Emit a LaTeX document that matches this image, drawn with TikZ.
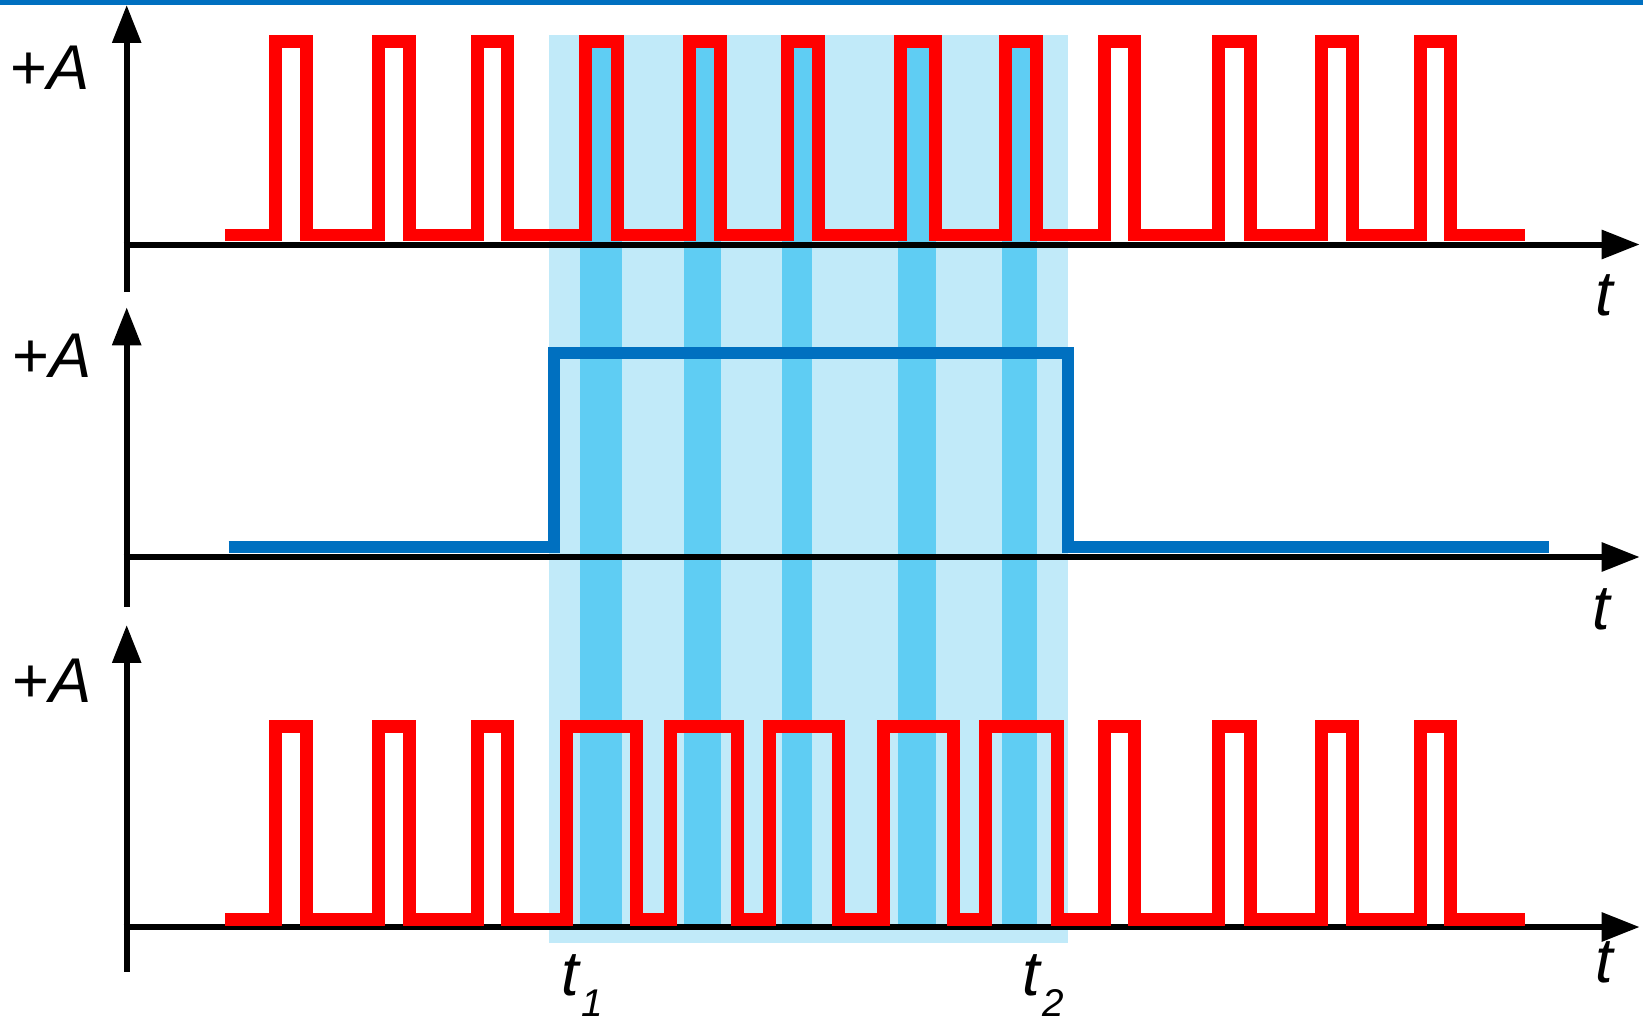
\documentclass[tikz,border=0pt]{standalone}
\usepackage{fontspec}
\setmainfont{Liberation Sans}
\usetikzlibrary{arrows.meta}
\definecolor{sigred}{HTML}{FF0000}
\definecolor{gateblue}{HTML}{0070C0}
\definecolor{winlight}{HTML}{C1EAF9}
\definecolor{windark}{HTML}{5FCDF3}

\begin{document}
\begin{tikzpicture}[
  x=0.02cm, y=-0.02cm,
  axis/.style={draw=black, line width=0.12cm,
    -{Triangle[length=0.76cm, width=0.56cm]}},
  pulse/.style={draw=sigred, line width=0.26cm},
  gate/.style={draw=gateblue, line width=0.24cm},
  lab/.style={inner sep=0pt, anchor=base west,
    font=\fontsize{36}{40}\selectfont},
  sub/.style={font=\fontsize{22}{24}\selectfont},
]
\useasboundingbox (0,0) rectangle (1643,1024);
\fill[gateblue] (0,0) rectangle (1643,5);

% window between t1 and t2, with the overlap slots in darker blue
\fill[winlight] (549,35) rectangle (1068,943);
\foreach \a/\b in {580/622, 684/721, 782/812, 898/936, 1002/1037}
  \fill[windark] (\a,35) rectangle (\b,926);

\draw[axis] (126.7,292)   -- (126.7,5);
\draw[axis] (123.7,244.5) -- (1639.7,244.5);
\draw[axis] (126.7,606.7) -- (126.7,307.3);
\draw[axis] (123.7,557)   -- (1639.7,557);
\draw[axis] (126.7,971.7) -- (126.7,625);
\draw[axis] (123.7,927)   -- (1639.7,927);

\draw[pulse] (225,235)
  \foreach \r/\f in {275.5/306.5, 378/409.5, 477/507.5, 585.7/617.5,
    689/720, 787.5/818, 900.5/935.5, 1005/1036.5, 1104/1134,
    1218/1250, 1321/1352.5, 1420/1450}
  { -| (\r,41.7) -| (\f,235) } -- (1525,235);

\draw[gate] (228.5,546.7) -| (554,352.7) -| (1068,546.7) -- (1549,546.7);

\draw[pulse] (225,919)
  \foreach \r/\f in {275.5/306.5, 378/409.5, 477/507.5, 566.7/636.8,
    670.5/737.8, 769.8/838, 883/953.5, 985.5/1057.5, 1104/1134,
    1218/1250, 1321/1352.5, 1420/1450}
  { -| (\r,726) -| (\f,919) } -- (1525,919);

\node[lab] (amp1) at (10,90)    {+\textit{A}};
\node[lab] (amp2) at (12.5,377) {+\textit{A}};
\node[lab] (amp3) at (12.5,702) {+\textit{A}};
\node[lab] (time1) at (1595,315) {\textit{t}};
\node[lab] (time2) at (1592,629) {\textit{t}};
\node[lab] (time3) at (1595,982) {\textit{t}};
\node[lab] (tstart) at (561,995)
  {\textit{t}\raisebox{-0.42cm}{\tikz[baseline]\node[sub, inner sep=0pt, anchor=base]{\textit{1}};}};
\node[lab] (tstop) at (1022,995)
  {\textit{t}\raisebox{-0.42cm}{\tikz[baseline]\node[sub, inner sep=0pt, anchor=base]{\textit{2}};}};
\end{tikzpicture}
\end{document}
